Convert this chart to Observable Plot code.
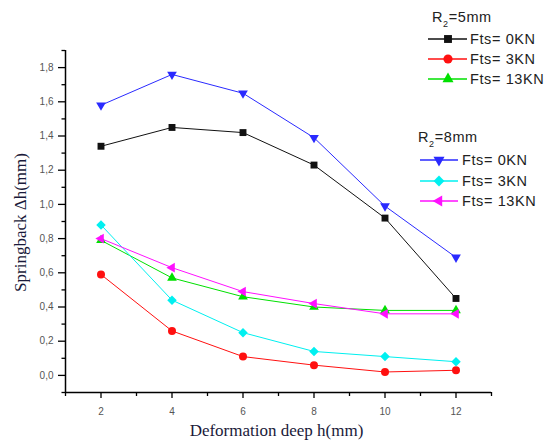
<!DOCTYPE html>
<html>
<head>
<meta charset="utf-8">
<script src="https://cdn.jsdelivr.net/npm/d3@7"></script>
<script src="https://cdn.jsdelivr.net/npm/@observablehq/plot@0.6"></script>
<style>
  html, body { margin: 0; padding: 0; background: #fff; }
  #wrap { position: relative; width: 548px; height: 447px; }
  #wrap svg { display: block; }
  #legend { position: absolute; left: 0; top: 0; pointer-events: none; }
</style>
</head>
<body>
<div id="wrap"></div>
<script>
// ---- data ----
const depths = [2, 4, 6, 8, 10, 12];
const r5_0KN  = [1.34, 1.45, 1.42, 1.23, 0.92, 0.45];
const r5_3KN  = [0.59, 0.26, 0.11, 0.06, 0.02, 0.03];
const r5_13KN = [0.79, 0.57, 0.46, 0.40, 0.38, 0.38];
const r8_0KN  = [1.58, 1.76, 1.65, 1.39, 0.99, 0.69];
const r8_3KN  = [0.88, 0.44, 0.25, 0.14, 0.11, 0.08];
const r8_13KN = [0.80, 0.63, 0.49, 0.42, 0.36, 0.36];
const legendTitles = ["=5mm", "=8mm"];
const legendLabels = ["Fts= 0KN", "Fts= 3KN", "Fts= 13KN"];
const yTicks = [0, 0.2, 0.4, 0.6, 0.8, 1.0, 1.2, 1.4, 1.6, 1.8];
const yMinor = [-0.1, 0.1, 0.3, 0.5, 0.7, 0.9, 1.1, 1.3, 1.5, 1.7, 1.9];
const xTicks = [2, 4, 6, 8, 10, 12];
const xMinor = [1, 3, 5, 7, 9, 11, 13];

// ---- custom symbols ----
const sqrt3 = Math.sqrt(3);
const triangleDown = {
  draw(ctx, size) {
    const y = -Math.sqrt(size / (sqrt3 * 3));
    ctx.moveTo(0, -y * 2);
    ctx.lineTo(-sqrt3 * y, y);
    ctx.lineTo(sqrt3 * y, y);
    ctx.closePath();
  }
};
const triangleLeft = {
  draw(ctx, size) {
    const y = -Math.sqrt(size / (sqrt3 * 3));
    ctx.moveTo(y * 2, 0);
    ctx.lineTo(-y, -sqrt3 * y);
    ctx.lineTo(-y, sqrt3 * y);
    ctx.closePath();
  }
};
const squareDiamond = {
  draw(ctx, size) {
    const d = Math.sqrt(size / 2);
    ctx.moveTo(0, -d);
    ctx.lineTo(d, 0);
    ctx.lineTo(0, d);
    ctx.lineTo(-d, 0);
    ctx.closePath();
  }
};

const series = [
  {values: r5_0KN,  color: "#111111", symbol: d3.symbolSquare,  r: 3.9, group: 0},
  {values: r5_3KN,  color: "#ff1010", symbol: d3.symbolCircle,  r: 4,   group: 0},
  {values: r5_13KN, color: "#00e000", symbol: d3.symbolTriangle, r: 3.6, group: 0},
  {values: r8_0KN,  color: "#2a2aff", symbol: triangleDown,     r: 3.6, group: 1},
  {values: r8_3KN,  color: "#00f0f0", symbol: squareDiamond,    r: 3.8, group: 1},
  {values: r8_13KN, color: "#ff10ff", symbol: triangleLeft,     r: 3.6, group: 1}
];

const marks = [];
for (const s of series) {
  const rows = depths.map((x, i) => ({x, y: s.values[i]}));
  marks.push(Plot.line(rows, {x: "x", y: "y", stroke: s.color, strokeWidth: 1}));
}
for (const s of series) {
  const rows = depths.map((x, i) => ({x, y: s.values[i]}));
  marks.push(Plot.dot(rows, {x: "x", y: "y", fill: s.color, stroke: "none", symbol: s.symbol, r: s.r}));
}

const fmt = d => d.toFixed(1).replace(".", ",");

const chart = Plot.plot({
  width: 548,
  height: 447,
  marginLeft: 65,
  marginRight: 57,
  marginTop: 50,
  marginBottom: 55,
  style: {background: "#fff", overflow: "visible"},
  x: {domain: [1, 13]},
  y: {domain: [-0.1, 1.9]},
  marks: [
    Plot.axisY({ticks: yMinor, tickSize: 3.5, tickFormat: () => "", stroke: "#000", strokeWidth: 1.3, label: null}),
    Plot.axisY({ticks: yTicks, tickSize: 7, tickPadding: 5, tickFormat: fmt, stroke: "#000", strokeWidth: 1.3,
                fill: "#555", fontSize: 10, fontFamily: "Liberation Sans, Arial, sans-serif", label: null}),
    Plot.axisX({ticks: xMinor, tickSize: 4, tickFormat: () => "", stroke: "#000", strokeWidth: 1.3, label: null}),
    Plot.axisX({ticks: xTicks, tickSize: 6, tickPadding: 9, tickFormat: d => String(d), stroke: "#000", strokeWidth: 1.3,
                fill: "#555", fontSize: 10, fontFamily: "Liberation Sans, Arial, sans-serif", label: null}),
    Plot.ruleX([1], {stroke: "#000", strokeWidth: 1.5}),
    Plot.ruleY([-0.1], {stroke: "#000", strokeWidth: 1.5}),
    ...marks,
    Plot.text(["Springback \u0394h(mm)"], {frameAnchor: "left", dx: -45, dy: 1, rotate: -90, fontSize: 17,
              fontFamily: "Liberation Serif, Times New Roman, serif", fill: "#1a1a3a", textAnchor: "middle"}),
    Plot.text(["Deformation deep h(mm)"], {frameAnchor: "bottom", dy: 43, dx: -2, fontSize: 17,
              fontFamily: "Liberation Serif, Times New Roman, serif", fill: "#1a1a3a", textAnchor: "middle"})
  ]
});

const wrap = document.getElementById("wrap");
wrap.appendChild(chart);

// ---- legend overlay ----
const leg = d3.select(wrap).append("svg")
  .attr("id", "legend").attr("width", 548).attr("height", 447)
  .style("font-family", "Liberation Sans, Arial, sans-serif");

const layouts = [
  {tx: 432, ty: 17, x1: 428, x2: 467, mx: 448, lx: 470, ys: [39, 59, 79]},
  {tx: 418, ty: 137, x1: 420, x2: 458, mx: 439, lx: 462, ys: [160, 181, 201]}
];

layouts.forEach((L, g) => {
  const t = leg.append("text").attr("x", L.tx).attr("y", L.ty).attr("dy", "0.35em")
    .attr("fill", "#222").attr("font-size", 14.5).attr("letter-spacing", 0.6);
  t.append("tspan").text("R");
  t.append("tspan").attr("font-size", 9).attr("dy", 5).text("2");
  t.append("tspan").attr("dy", -5).text(legendTitles[g]);
  const ss = series.filter(s => s.group === g);
  ss.forEach((s, i) => {
    const y = L.ys[i];
    leg.append("line").attr("x1", L.x1).attr("x2", L.x2).attr("y1", y).attr("y2", y)
      .attr("stroke", s.color).attr("stroke-width", 1.5);
    leg.append("path").attr("transform", `translate(${L.mx},${y})`)
      .attr("d", d3.symbol().type(s.symbol).size(Math.PI * s.r * s.r * 1.3)())
      .attr("fill", s.color);
    leg.append("text").attr("x", L.lx).attr("y", y).attr("dy", "0.35em")
      .attr("fill", "#222").attr("font-size", 14.5).attr("letter-spacing", 0.6).text(legendLabels[i]);
  });
});
</script>
</body>
</html>
